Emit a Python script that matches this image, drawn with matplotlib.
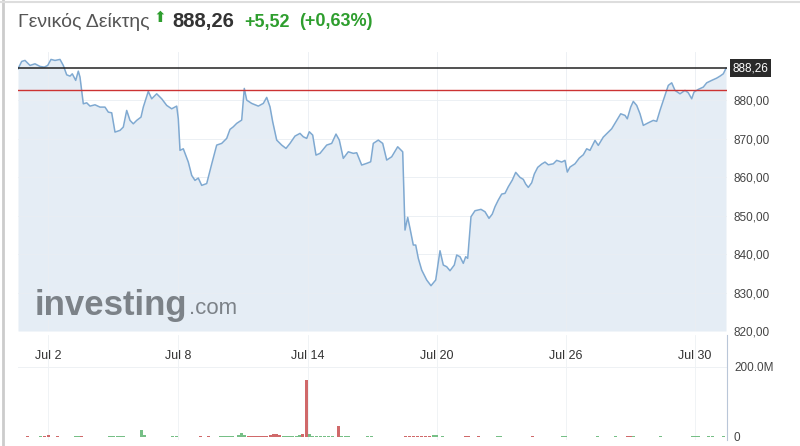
import matplotlib
matplotlib.use("Agg")
import matplotlib.pyplot as plt

plt.rcParams['font.family'] = ['Liberation Sans', 'DejaVu Sans']

# session position (chart units) and index level
t = [0.0, 0.37, 0.70, 1.20, 1.70, 2.20, 2.63, 2.97, 3.30, 3.70, 4.20, 4.53, 4.87, 5.20, 5.43,
     5.77, 6.03, 6.20, 6.53, 6.87, 7.20, 7.70, 8.20, 8.70, 9.03, 9.37, 9.70, 10.20, 10.53,
     10.87, 11.20, 11.53, 11.87, 12.30, 12.53, 12.80, 13.03, 13.37, 13.87, 14.37, 14.87,
     15.37, 15.87, 16.03, 16.20, 16.53, 17.03, 17.37, 17.70, 18.03, 18.37, 18.87, 19.37,
     19.87, 20.37, 20.87, 21.20, 21.53, 21.87, 22.37, 22.63, 22.87, 23.37, 24.03, 24.53,
     24.87, 25.20, 25.47, 25.87, 26.37, 26.80, 27.20, 27.70, 28.20, 28.53, 28.87, 29.13,
     29.47, 29.80, 30.20, 30.87, 31.37, 31.80, 32.13, 32.53, 33.03, 33.53, 33.87, 34.37,
     34.87, 35.27, 35.53, 36.03, 36.47, 36.87, 37.37, 37.97, 38.47, 38.70, 38.97, 39.20,
     39.53, 39.77, 40.03, 40.37, 40.87, 41.30, 41.77, 42.20, 42.53, 42.87, 43.20, 43.63,
     43.87, 44.20, 44.53, 44.77, 44.97, 45.30, 45.70, 46.30, 46.70, 47.10, 47.43, 47.70,
     48.03, 48.37, 48.70, 49.03, 49.43, 49.77, 50.20, 50.53, 50.77, 51.03, 51.37, 51.63,
     51.97, 52.37, 52.70, 53.03, 53.53, 53.87, 54.37, 54.70, 54.93, 55.20, 55.70, 56.13,
     56.53, 56.87, 57.20, 57.70, 58.03, 58.53, 59.03, 59.37, 59.87, 60.27, 60.70, 60.93,
     61.27, 61.53, 61.87, 62.20, 62.53, 63.03, 63.53, 63.87, 64.20, 64.70, 65.03, 65.37,
     65.70, 66.20, 66.70, 67.03, 67.37, 67.60, 68.03, 68.53, 68.87, 69.37, 69.87, 70.20,
     70.53, 70.80]
price = [888.13, 890.05, 890.31, 889.01, 889.43, 888.75, 888.57, 889.01, 890.57, 890.31, 890.57,
         889.01, 886.57, 886.23, 886.83, 885.12, 887.53, 885.97, 879.04, 879.30, 878.44,
         878.78, 878.18, 878.18, 876.88, 876.70, 871.69, 872.13, 872.99, 877.32, 874.73,
         873.84, 874.73, 875.58, 878.18, 880.34, 882.26, 880.34, 881.64, 880.34, 878.62,
         877.74, 878.44, 875.14, 866.94, 867.35, 863.90, 860.44, 859.14, 859.74, 857.84,
         858.31, 863.38, 868.31, 868.75, 870.05, 872.39, 873.06, 873.95, 874.81, 883.04,
         880.00, 879.14, 878.44, 879.14, 880.70, 878.26, 874.36, 869.61, 868.31, 867.45,
         868.75, 870.65, 871.35, 870.47, 870.05, 871.77, 870.91, 865.71, 866.16, 868.31,
         868.75, 871.17, 869.61, 864.86, 866.57, 866.16, 866.32, 863.12, 863.56, 863.97,
         868.75, 869.61, 868.75, 864.42, 865.27, 867.87, 866.57, 846.23, 849.53, 846.67,
         842.34, 842.34, 838.88, 835.84, 833.25, 831.77, 833.25, 840.86, 837.14, 836.70,
         835.66, 837.14, 839.74, 839.30, 837.58, 839.30, 838.88, 849.69, 851.25, 851.61,
         850.99, 849.27, 850.39, 852.29, 854.03, 855.58, 855.77, 857.48, 859.22, 861.22,
         859.92, 859.40, 858.18, 857.32, 858.52, 860.78, 862.52, 863.38, 863.90, 863.19,
         863.45, 864.34, 863.90, 864.34, 861.30, 862.60, 863.45, 864.94, 865.79, 867.35,
         866.94, 869.53, 868.23, 870.39, 871.69, 872.55, 874.73, 876.44, 876.03, 875.14,
         878.18, 879.66, 878.62, 876.44, 873.43, 874.10, 874.73, 874.47, 877.32, 881.22,
         883.82, 884.49, 882.52, 881.64, 882.52, 881.90, 880.34, 882.08, 882.78, 883.38,
         884.49, 885.12, 885.71, 886.23, 886.83, 888.26]

last_price = 888.26
prev_close = 882.74
change = 5.52
change_pct = 0.63

tick_pos = [3.0, 16.0, 29.0, 41.9, 54.8, 67.7]
tick_labels = ["Jul 2", "Jul 8", "Jul 14", "Jul 20", "Jul 26", "Jul 30"]
price_ticks = [820, 830, 840, 850, 860, 870, 880]

# volume (millions), up = green bar
vol_t = [0.9, 2.2, 2.6, 3.0, 3.9, 5.7, 6.0, 6.3, 9.2, 9.5, 9.9, 10.2, 10.5, 12.3, 12.6,
         15.4, 15.8, 18.2, 19.0, 20.2, 20.5, 20.8, 21.1, 21.4, 22.0, 22.3, 22.6, 23.0, 23.3,
         23.6, 23.9, 24.2, 24.5, 24.8, 25.2, 25.5, 25.8, 26.1, 26.5, 26.8, 27.1, 27.4, 27.8,
         28.1, 28.4, 28.8, 29.1, 29.4, 29.8, 30.2, 30.6, 31.0, 31.4, 32.0, 32.3, 32.7, 33.0,
         34.9, 35.3, 38.7, 39.1, 39.5, 39.9, 40.3, 40.7, 41.1, 41.5, 41.8, 42.4, 44.7, 45.0,
         46.0, 47.9, 48.2, 51.4, 54.4, 54.7, 57.9, 59.7, 60.9, 61.2, 61.5, 64.2, 67.4, 67.7,
         68.0, 69.1, 69.4, 70.6]
vol = [4, 4, 4, 5, 4, 4, 4, 4, 4, 4, 4, 4, 4, 20, 6,
       4, 4, 4, 4, 4, 4, 4, 4, 4, 6, 10, 7, 4, 4,
       4, 4, 4, 4, 4, 7, 9, 8, 6, 4, 4, 4, 4, 4,
       7, 8, 164, 8, 4, 4, 4, 4, 4, 4, 31, 4, 4, 4,
       4, 4, 4, 4, 4, 4, 4, 4, 4, 7, 5, 4, 4, 4,
       4, 4, 4, 4, 4, 4, 4, 4, 4, 4, 4, 4, 4, 4,
       4, 4, 4, 4]
vol_up = [0, 1, 0, 0, 0, 1, 1, 0, 1, 1, 1, 1, 1, 1, 1,
          1, 1, 0, 0, 1, 1, 1, 1, 1, 1, 1, 1, 0, 0,
          0, 0, 0, 0, 0, 0, 0, 0, 0, 1, 1, 1, 1, 1,
          1, 0, 0, 1, 1, 1, 1, 1, 1, 1, 0, 1, 1, 1,
          1, 1, 0, 0, 0, 0, 0, 0, 0, 1, 1, 1, 0, 0,
          0, 1, 1, 0, 1, 1, 1, 1, 0, 0, 1, 1, 1, 1,
          1, 1, 1, 1]


def fmt(v):
    return "{:.2f}".format(v).replace(".", ",")


fig = plt.figure(figsize=(8, 4.46), dpi=100)
fig.patch.set_facecolor("white")

xmax = 70.9

# volume panel (drawn first so the price axis labels sit on top)
axv = fig.add_axes([18 / 800, 6 / 446, 709 / 800, 105 / 446])
axv.patch.set_alpha(0)
colors = ["#76bf86" if u else "#d0696a" for u in vol_up]
axv.bar(vol_t, vol, width=0.3, color=colors, zorder=3)
axv.set_xlim(0, xmax)
axv.set_ylim(-8.6, 291)
axv.axhline(200, color="#eef1f4", lw=0.7, zorder=1)
for x in tick_pos:
    axv.axvline(x, color="#eef1f4", lw=0.6, zorder=1)
axv.set_xticks([])
axv.set_yticks([0, 200])
axv.set_yticklabels(["0", "200.0M"], fontsize=8.5, color="#444444")
axv.yaxis.tick_right()
axv.tick_params(axis="y", length=0, pad=5)
for k, s in axv.spines.items():
    s.set_visible(k == "right")
axv.spines["right"].set_color("#b9c6d8")

# price panel
ax = fig.add_axes([18 / 800, 115 / 446, 709 / 800, 279 / 446])
ax.patch.set_alpha(0)
ax.fill_between(t, price, 820, color="#e5edf5", lw=0, zorder=1)
ax.plot(t, price, color="#7fa9d1", lw=1.1, zorder=3)
ax.axhline(last_price, color="#222222", lw=1.1, zorder=4)
ax.axhline(prev_close, color="#cc3333", lw=1.0, zorder=4)
ax.set_xlim(0, xmax)
ax.set_ylim(820, 892.5)
for y in price_ticks:
    ax.axhline(y, color="#e9eef3", lw=0.6, zorder=2)
for x in tick_pos:
    ax.axvline(x, color="#eaeef2", lw=0.6, zorder=2)
ax.set_xticks(tick_pos)
ax.set_xticklabels(tick_labels, fontsize=9, color="#333333")
ax.set_yticks(price_ticks)
ax.set_yticklabels([fmt(v) for v in price_ticks], fontsize=8.5, color="#444444")
ax.yaxis.tick_right()
ax.tick_params(axis="x", length=0, pad=14)
ax.tick_params(axis="y", length=0, pad=5)
for s in ax.spines.values():
    s.set_visible(False)

ax.annotate(fmt(last_price), xy=(1, last_price), xycoords=("axes fraction", "data"),
            xytext=(4, 0), textcoords="offset points", ha="left", va="center",
            fontsize=8.5, color="white",
            bbox=dict(boxstyle="square,pad=0.25", fc="#2a2a2a", ec="none"))

# watermark
wm = ax.text(0.024, 0.057, "investing", transform=ax.transAxes, fontsize=25,
             fontweight="bold", color="#7c8288", ha="left", va="baseline", zorder=5)
ax.annotate(".com", xy=(1, 0), xycoords=wm, xytext=(1, 6), textcoords="offset points",
            fontsize=16, color="#7c8288", ha="left", va="baseline", zorder=5)

# header
fig.text(18 / 800, 1 - 22 / 446, "Γενικός Δείκτης", fontsize=14, color="#555555",
         ha="left", va="center")
fig.text(153 / 800, 1 - 18 / 446, "\u2B06", fontsize=11, color="#2e9e2e",
         ha="left", va="center", family="DejaVu Sans")
fig.text(172 / 800, 1 - 22 / 446, fmt(last_price), fontsize=14.5, fontweight="bold",
         color="#333333", ha="left", va="center")
fig.text(244 / 800, 1 - 22 / 446, "+" + fmt(change), fontsize=13, fontweight="bold",
         color="#2e9e2e", ha="left", va="center")
fig.text(299 / 800, 1 - 22 / 446, "(+" + fmt(change_pct) + "%)", fontsize=13,
         fontweight="bold", color="#2e9e2e", ha="left", va="center")

# frame lines
fig.add_artist(plt.Line2D([3 / 800, 3 / 800], [0, 1], color="#cccccc", lw=2))
fig.add_artist(plt.Line2D([0, 1], [1 - 2 / 446, 1 - 2 / 446], color="#dddddd", lw=1.5))

fig.savefig("out.png", dpi=100)
